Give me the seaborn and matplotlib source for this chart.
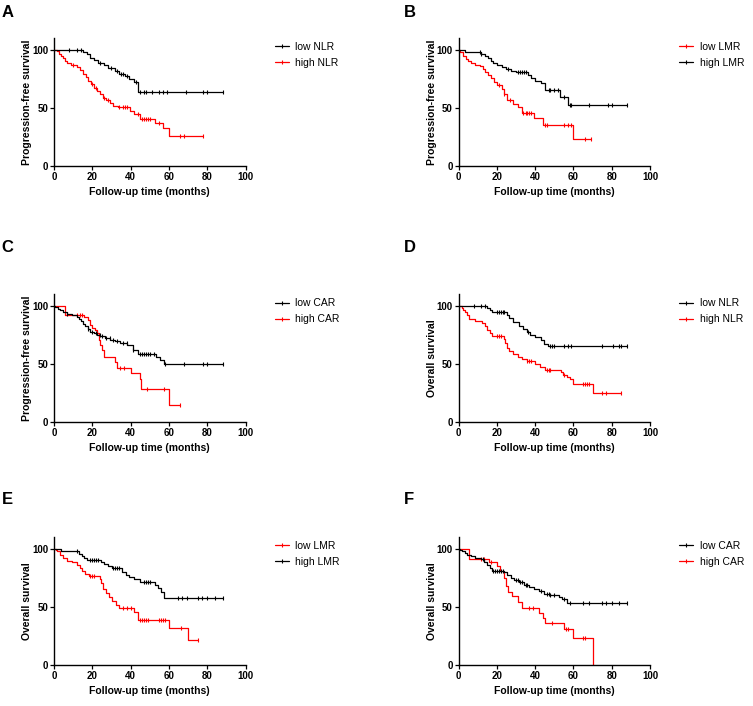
import numpy as np
import pandas as pd
import matplotlib
matplotlib.use("Agg")
import matplotlib.pyplot as plt
import seaborn as sns
from matplotlib.lines import Line2D

# Kaplan-Meier curves: event times (months), survival (%) after
# each event, and censoring times.

# A - PFS by NLR
a_low_t = [15, 17, 19, 21, 23, 26, 28, 32, 34, 37, 39, 42, 44]
a_low_s = [98, 96, 93, 91, 89, 86.5, 84, 82, 79, 77, 74.5, 72, 64]
a_low_c = [8, 12, 14, 24, 30, 33, 35, 36, 38, 43, 45, 47, 48, 51, 55, 57, 59, 69, 78, 80, 88]
a_high_t = [1.7, 2.5, 3.5, 4.5, 5.5, 7, 9, 12, 13.5, 15, 16.5, 18, 19.5, 21, 22.5, 24,
            25.5, 27, 29, 31, 33.5, 39.5, 42, 45, 53, 57, 60]
a_high_s = [98.5, 96.5, 94.5, 92.5, 90.5, 88.5, 87, 85.5, 82.5, 79.5, 76.5, 73.5, 70.5,
            67.5, 64.5, 61.5, 58.5, 56.5, 54, 52, 50.5, 47.5, 45, 40.5, 37, 32.5, 26]
a_high_c = [10, 20, 22, 26, 28, 34, 36, 37, 38, 44, 46, 47, 48, 49, 50, 55, 66, 68, 78]

# B - PFS by LMR
b_low_t = [1, 2.3, 3.7, 5, 6.4, 8.5, 11, 13, 14, 15.5, 17, 18.5, 20, 22.5, 24, 25.5,
           28.5, 31, 33, 39.5, 44, 60]
b_low_s = [98, 95, 92, 90.5, 88.5, 87, 86, 83.5, 81, 78.5, 75.5, 72.5, 69.5, 66.5, 62,
           57, 53.5, 50.5, 46, 41, 35, 23.5]
b_low_c = [21, 24, 27, 33.5, 35, 36, 37, 38, 45, 46, 55, 57, 58.5, 66, 69]
b_high_t = [3.3, 12, 14, 15.5, 17, 18, 20, 22.5, 25, 27.5, 30, 36.5, 38, 40, 43, 45, 53, 57]
b_high_s = [97.8, 96.5, 94.5, 92.5, 90.5, 88.5, 87, 85.5, 83.5, 82, 80.5, 78, 75.5,
            73.5, 71.5, 65, 59, 52.5]
b_high_c = [11, 12, 26, 31, 32, 33, 34, 35, 47, 48, 50, 52, 55, 58, 59, 68, 78, 80, 88]

# C - PFS by CAR
c_low_t = [0.7, 1.9, 3.3, 4.7, 6.8, 9.4, 12, 13, 14, 15, 16.4, 17.6, 19, 20.7, 22.5,
           24.2, 26.8, 29.4, 32, 34.7, 38.2, 41, 44, 53.3, 55.5, 57.3]
c_low_s = [99, 97.7, 96.3, 94.8, 93.4, 92.2, 90.5, 88.8, 86.7, 84.7, 82.4, 80, 78, 76.7,
           75.2, 73.8, 72.3, 70.9, 69.5, 68, 66.6, 62, 58.5, 56.5, 54, 50]
c_low_c = [7, 18, 20, 22, 24, 25, 27, 29, 31, 33, 36, 38, 41, 45, 46, 47, 48, 49, 50, 52,
           58, 68, 78, 80, 88]
c_high_t = [5.5, 15.5, 18, 19, 20, 21.5, 22.5, 23.3, 24.2, 25.1, 26.3, 32, 33, 40.4,
            44.8, 45.5, 60]
c_high_s = [92, 90.5, 88, 84, 81, 79.5, 76.5, 71, 66.5, 62, 56.5, 52, 46.5, 42.5, 37, 29, 14.5]
c_high_c = [12, 13.8, 14.6, 34.7, 36.4, 48.6, 57.3, 66]

# D - OS by NLR
d_low_t = [15, 16.3, 17.5, 25.3, 26.6, 28.2, 31.5, 33.5, 36, 37.5, 40, 43, 44.5, 46.5]
d_low_s = [98, 96.5, 94.5, 92.5, 89.5, 86, 83, 80.5, 78, 75.5, 73.5, 70.5, 67.5, 65.5]
d_low_c = [8, 12, 14, 20, 21, 22, 23, 24, 36.5, 48, 49, 50, 55, 57, 59, 75, 80.5, 84, 85, 88]
d_high_t = [1.6, 2.2, 3.3, 4.5, 5.7, 8.8, 12.3, 13.7, 14.9, 16.3, 17.5, 23.5, 24.4, 25.3,
            26.5, 28.7, 31.3, 33, 35.6, 40, 42.6, 45.2, 53.5, 54.7, 56.5, 58.2, 60, 70]
d_high_s = [98.5, 97, 94.5, 92, 89, 87, 85.5, 82.5, 79.5, 77, 74.5, 71.5, 68, 64, 61, 59,
            56.5, 54.5, 52.5, 50, 47.5, 45, 43, 41, 39, 37, 33, 25]
d_high_c = [20, 21, 22, 36, 37, 38, 46, 47, 48, 55, 65, 66, 67, 68, 75, 77, 85]

# E - OS by LMR
e_low_t = [0.9, 1.7, 3.1, 4.9, 7, 9.6, 12.2, 13.6, 14.8, 16.2, 18.3, 24, 24.7, 25.7, 27,
           28.7, 30.4, 32.2, 33.9, 41.7, 43.8, 60, 70]
e_low_s = [98.5, 97.5, 94.5, 92, 89, 88, 86, 83.5, 80.5, 78.5, 76, 73.5, 70, 65, 61.5,
           58.5, 55, 51.5, 48.5, 45.5, 38.5, 31.5, 21]
e_low_c = [19, 20, 21, 36, 38, 40, 45, 46, 47, 48, 49, 55, 56, 57, 58, 66.5, 75]
e_high_t = [3.5, 13, 14.4, 15.7, 17.4, 24.3, 26, 28.2, 30.4, 35.7, 37.4, 39.1, 41.7, 44.9,
            53, 54.3, 55.7, 57.4]
e_high_s = [97.7, 95.7, 93.7, 92, 90.5, 88.5, 87, 85, 83, 80, 77, 75.5, 73.5, 71, 68.5,
            66, 62.5, 57.5]
e_high_c = [12, 19, 20, 21, 22, 23, 31, 32, 33, 34, 47, 48, 49, 50, 65, 67, 69.5, 75,
            77.5, 80, 84, 88]

# F - OS by CAR
f_low_t = [1, 1.9, 3.3, 4.5, 6.3, 8.5, 11.5, 13.2, 15, 16.7, 17.6, 23.7, 25.4, 27.2, 28.9,
           31.5, 34.1, 36.8, 39.4, 42, 44.6, 48, 52.4, 54.2, 56.8]
f_low_s = [99, 97.7, 96.3, 94.8, 93.7, 92.2, 90.8, 88.5, 85.6, 83.3, 81, 80, 77, 74.7,
           72.7, 71.3, 69, 67, 65.5, 63.2, 61.2, 59.8, 58.3, 56.3, 53.5]
f_low_c = [13, 18, 19, 20, 21, 22, 23, 30, 31, 32, 33, 35, 36, 43, 46, 47, 48, 50, 55, 58,
           65, 68, 75, 77, 80, 84, 88]
f_high_t = [5.5, 16, 20, 21.5, 24, 25, 26, 28, 31, 33, 42, 44, 45, 55, 60, 70]
f_high_s = [91, 88.5, 85, 80.5, 75, 67.5, 63, 59, 54, 49, 44.5, 40.5, 36, 31, 23, 0]
f_high_c = [12, 13.5, 17, 37, 39, 49, 56, 57, 65, 66]

PFS = "Progression-free survival"
OS = "Overall survival"

panels = [
    ("A", PFS, [("low NLR", "black", a_low_t, a_low_s, a_low_c),
                ("high NLR", "red", a_high_t, a_high_s, a_high_c)]),
    ("B", PFS, [("low LMR", "red", b_low_t, b_low_s, b_low_c),
                ("high LMR", "black", b_high_t, b_high_s, b_high_c)]),
    ("C", PFS, [("low CAR", "black", c_low_t, c_low_s, c_low_c),
                ("high CAR", "red", c_high_t, c_high_s, c_high_c)]),
    ("D", OS, [("low NLR", "black", d_low_t, d_low_s, d_low_c),
               ("high NLR", "red", d_high_t, d_high_s, d_high_c)]),
    ("E", OS, [("low LMR", "red", e_low_t, e_low_s, e_low_c),
               ("high LMR", "black", e_high_t, e_high_s, e_high_c)]),
    ("F", OS, [("low CAR", "black", f_low_t, f_low_s, f_low_c),
               ("high CAR", "red", f_high_t, f_high_s, f_high_c)]),
]

sns.set_style("ticks")
plt.rcParams["font.family"] = ["Liberation Sans", "DejaVu Sans"]
plt.rcParams["text.color"] = "black"
plt.rcParams["axes.labelcolor"] = "black"
plt.rcParams["axes.edgecolor"] = "black"

W, H = 753, 706
fig = plt.figure(figsize=(W / 100, H / 100), dpi=100)

# pixel layout of the axes boxes
col_left = [54, 458.5]
row_bottom = [166, 422.3, 664.8]
letter_x = [1.5, 404]
letter_base = [16.7, 252, 504.3]
ax_w, ax_h = 191.5, 127.9


def km_frame(times, surv, cens):
    end = max(max(times), max(cens))
    x = [0] + list(times) + [end]
    y = [100] + list(surv) + [surv[-1]]
    return pd.DataFrame({"time": x, "surv": y})


def censor_frame(times, surv, cens):
    steps = np.array([100] + list(surv))
    idx = np.searchsorted(np.array(times), np.array(cens), side="right")
    return pd.DataFrame({"time": cens, "surv": steps[idx]})


for i, (letter, ylabel, curves) in enumerate(panels):
    r, c = divmod(i, 2)
    left = col_left[c] / W
    bottom = 1 - row_bottom[r] / H
    ax = fig.add_axes([left, bottom, ax_w / W, ax_h / H])

    handles = []
    for label, color, t, s, cens in curves:
        z = 3 if color == "black" else 2
        sns.lineplot(data=km_frame(t, s, cens), x="time", y="surv", ax=ax,
                     color=color, linewidth=0.9, drawstyle="steps-post",
                     estimator=None, sort=False, zorder=z)
        cf = censor_frame(t, s, cens)
        ax.plot(cf["time"], cf["surv"], linestyle="none", marker="|",
                markersize=3.2, markeredgewidth=0.8, color=color, zorder=z)
        handles.append(Line2D([], [], color=color, linewidth=0.9, marker="|",
                              markersize=3.2, markeredgewidth=0.8, label=label))

    ax.set_xlim(0, 100)
    ax.set_ylim(0, 110)
    ax.set_xticks([0, 20, 40, 60, 80, 100])
    ax.set_yticks([0, 50, 100])
    sns.despine(ax=ax)
    for sp in ("left", "bottom"):
        ax.spines[sp].set_linewidth(1.0)
    ax.tick_params(direction="out", length=2.8, width=0.9, pad=1.5, labelsize=7,
                   colors="black")
    for tl in ax.get_xticklabels() + ax.get_yticklabels():
        tl.set_fontweight("bold")

    ax.set_xlabel("Follow-up time (months)", fontsize=7.5, fontweight="bold")
    ax.set_ylabel(ylabel, fontsize=7.5, fontweight="bold")
    ax.xaxis.set_label_coords(0.5, -0.165)
    ax.yaxis.set_label_coords(-0.113, 0.5)

    ax.legend(handles=handles, loc="center left", bbox_to_anchor=(1.153, 0.868),
              frameon=False, fontsize=7.5, handlelength=1.35, handletextpad=0.62,
              labelspacing=0.56, borderpad=0, borderaxespad=0, numpoints=1)

    fig.text(letter_x[c] / W, 1 - letter_base[r] / H, letter,
             fontsize=12, fontweight="bold", va="baseline", ha="left")

fig.savefig("out.png", dpi=100)
